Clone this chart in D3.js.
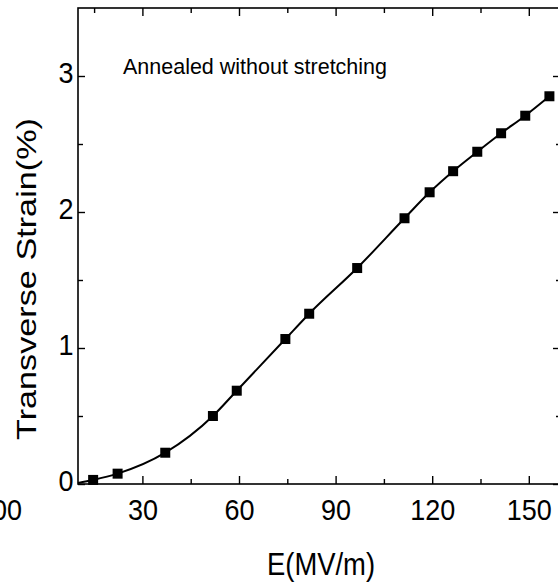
<!DOCTYPE html>
<html>
<head>
<meta charset="utf-8">
<script src="https://cdn.jsdelivr.net/npm/d3@7"></script>
<style>
  html, body { margin: 0; padding: 0; background: #fff; }
  svg { display: block; }
  text { font-family: "Liberation Sans", Arial, sans-serif; fill: #000; }
</style>
</head>
<body>
<svg id="chart" width="558" height="584"></svg>
<script>
// ---- data ----
const fieldE = [14.7, 22.3, 37.1, 51.9, 59.3, 74.4, 81.8, 96.7, 111.4, 119.2, 126.5, 134.0, 141.4, 148.9, 156.4];
const strain = [0.03, 0.076, 0.23, 0.50, 0.686, 1.066, 1.252, 1.588, 1.954, 2.145, 2.30, 2.443, 2.579, 2.708, 2.851];
const fitStartE = [10];
const fitStartS = [0.008];
const xMajorTicks = [30, 60, 90, 120, 150];
const xMinorTicks = [15, 45, 75, 105, 135];
const yMajorTicks = [0, 1, 2, 3];
const yMinorTicks = [0.5, 1.5, 2.5];
const annotation = "Annealed without stretching";
const xTitle = "E(MV/m)";
const yTitle = "Transverse Strain(%)";
const strayLabel = "100";

// ---- layout ----
const svg = d3.select("#chart");
const L = 78, R = 561, T = 8, B = 484;
const x = d3.scaleLinear().domain([10, 160]).range([L, R]);
const y = d3.scaleLinear().domain([0, 3.5]).range([B, T]);
const tickFont = 30, tickScaleX = 0.9;

// frame
svg.append("rect").attr("x", L).attr("y", T).attr("width", R - L).attr("height", B - T)
  .attr("fill", "none").attr("stroke", "#000").attr("stroke-width", 1.6);

// axes (ticks inward)
function styleAxis(g) {
  g.select(".domain").remove();
  g.selectAll(".tick line").attr("stroke", "#000").attr("stroke-width", 1.4);
}
// bottom major
const gb = svg.append("g").attr("transform", `translate(0,${B})`)
  .call(d3.axisBottom(x).tickValues(xMajorTicks).tickSize(-8).tickFormat(d3.format("d")));
styleAxis(gb);
gb.selectAll(".tick text").attr("y", 36).attr("dy", null)
  .attr("font-size", tickFont).attr("font-family", "Liberation Sans, Arial, sans-serif")
  .attr("transform", `scale(${tickScaleX},1)`);
// bottom minor
const gbm = svg.append("g").attr("transform", `translate(0,${B})`)
  .call(d3.axisBottom(x).tickValues(xMinorTicks).tickSize(-5).tickFormat(""));
styleAxis(gbm);
// top major/minor
const gt = svg.append("g").attr("transform", `translate(0,${T})`)
  .call(d3.axisTop(x).tickValues(xMajorTicks).tickSize(-8).tickFormat(""));
styleAxis(gt);
const gtm = svg.append("g").attr("transform", `translate(0,${T})`)
  .call(d3.axisTop(x).tickValues(xMinorTicks).tickSize(-5).tickFormat(""));
styleAxis(gtm);
// left major
const gl = svg.append("g").attr("transform", `translate(${L},0)`)
  .call(d3.axisLeft(y).tickValues(yMajorTicks).tickSize(-7).tickFormat(d3.format("d")));
styleAxis(gl);
gl.selectAll(".tick text").attr("x", -5).attr("y", 6).attr("dy", null)
  .attr("font-size", tickFont).attr("font-family", "Liberation Sans, Arial, sans-serif")
  .attr("transform", `scale(${tickScaleX},1)`);
const glm = svg.append("g").attr("transform", `translate(${L},0)`)
  .call(d3.axisLeft(y).tickValues(yMinorTicks).tickSize(-5).tickFormat(""));
styleAxis(glm);
// right
const gr = svg.append("g").attr("transform", `translate(${R},0)`)
  .call(d3.axisRight(y).tickValues(yMajorTicks).tickSize(-8).tickFormat(""));
styleAxis(gr);
const grm = svg.append("g").attr("transform", `translate(${R},0)`)
  .call(d3.axisRight(y).tickValues(yMinorTicks).tickSize(-5).tickFormat(""));
styleAxis(grm);

// fit curve
const lineData = fitStartE.map((e, i) => [e, fitStartS[i]])
  .concat(fieldE.map((e, i) => [e, strain[i]]));
svg.append("path").datum(lineData)
  .attr("fill", "none").attr("stroke", "#000").attr("stroke-width", 2)
  .attr("d", d3.line().x(d => x(d[0])).y(d => y(d[1])).curve(d3.curveMonotoneX));

// markers
const ms = 10;
svg.append("g").selectAll("rect").data(fieldE.map((e, i) => [e, strain[i]])).join("rect")
  .attr("x", d => x(d[0]) - ms / 2).attr("y", d => y(d[1]) - ms / 2)
  .attr("width", ms).attr("height", ms).attr("fill", "#000");

// annotation
svg.append("text").attr("x", 123).attr("y", 74)
  .attr("font-size", 22).attr("textLength", 264).attr("lengthAdjust", "spacingAndGlyphs")
  .text(annotation);

// axis titles
svg.append("text").attr("x", 267).attr("y", 575)
  .attr("font-size", 31).attr("textLength", 108).attr("lengthAdjust", "spacingAndGlyphs")
  .text(xTitle);
svg.append("text").attr("transform", "translate(36,440) rotate(-90)")
  .attr("x", 0).attr("y", 0)
  .attr("font-size", 28).attr("textLength", 322).attr("lengthAdjust", "spacingAndGlyphs")
  .text(yTitle);

// stray label from neighbouring panel (cut at the left edge)
svg.append("text").attr("x", 20).attr("y", 520).attr("text-anchor", "end")
  .attr("font-size", tickFont).attr("transform", `translate(2,0) scale(${tickScaleX},1) translate(${20/tickScaleX-20},0)`)
  .text(strayLabel);
</script>
</body>
</html>
